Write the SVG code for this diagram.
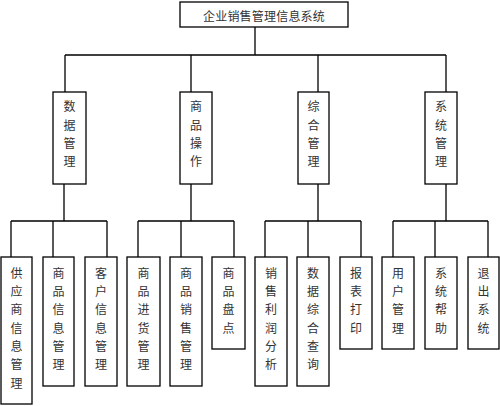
<svg xmlns="http://www.w3.org/2000/svg" width="500" height="406" viewBox="0 0 500 406">
<style>
.box{fill:#fff;stroke:#000;stroke-width:1.3}
.ln{fill:none;stroke:#000;stroke-width:1.3}
text{font-family:"Noto Sans CJK SC","Noto Sans",sans-serif;font-size:12px;fill:#333;text-anchor:middle;dominant-baseline:central}
</style>
<rect width="500" height="406" fill="#fff"/>
<g id="connectors">
<path class="ln" d="M255,27V55M65,55H446M65,55V92M191,55V92M318,55V92M446,55V92"/>
<path class="ln" d="M64,184V221M11,221H107M11,221V257M53,221V257M107,221V257"/>
<path class="ln" d="M191,184V221M138,221H234M138,221V257M181,221V257M234,221V257"/>
<path class="ln" d="M318,184V221M265,221H361M265,221V257M308,221V257M361,221V257"/>
<path class="ln" d="M446,184V221M393,221H488M393,221V257M435,221V257M488,221V257"/>
</g>
<g id="root"><rect class="box" x="180" y="2" width="168" height="25"/><text x="264" y="15" letter-spacing="0.2">企业销售管理信息系统</text></g>
<g id="n-data"><rect class="box" x="53" y="92" width="33" height="92"/><text x="69.5"><tspan x="69.5" y="105">数</tspan><tspan x="69.5" y="124">据</tspan><tspan x="69.5" y="142">管</tspan><tspan x="69.5" y="160">理</tspan></text></g>
<g id="n-goods"><rect class="box" x="180" y="92" width="32" height="92"/><text><tspan x="196" y="105">商</tspan><tspan x="196" y="124">品</tspan><tspan x="196" y="142">操</tspan><tspan x="196" y="160">作</tspan></text></g>
<g id="n-comp"><rect class="box" x="298" y="92" width="31" height="92"/><text><tspan x="313.5" y="105">综</tspan><tspan x="313.5" y="124">合</tspan><tspan x="313.5" y="142">管</tspan><tspan x="313.5" y="160">理</tspan></text></g>
<g id="n-sys"><rect class="box" x="425" y="92" width="32" height="92"/><text><tspan x="441" y="105">系</tspan><tspan x="441" y="124">统</tspan><tspan x="441" y="142">管</tspan><tspan x="441" y="160">理</tspan></text></g>
<g id="c1"><rect class="box" x="1" y="257" width="31" height="147"/><text><tspan x="16.5" y="272">供</tspan><tspan x="16.5" y="290">应</tspan><tspan x="16.5" y="308">商</tspan><tspan x="16.5" y="327">信</tspan><tspan x="16.5" y="345">息</tspan><tspan x="16.5" y="363">管</tspan><tspan x="16.5" y="382">理</tspan></text></g>
<g id="c2"><rect class="box" x="43" y="257" width="31" height="129"/><text><tspan x="58.5" y="272">商</tspan><tspan x="58.5" y="290">品</tspan><tspan x="58.5" y="308">信</tspan><tspan x="58.5" y="327">息</tspan><tspan x="58.5" y="345">管</tspan><tspan x="58.5" y="363">理</tspan></text></g>
<g id="c3"><rect class="box" x="85" y="257" width="32" height="129"/><text><tspan x="101" y="272">客</tspan><tspan x="101" y="290">户</tspan><tspan x="101" y="308">信</tspan><tspan x="101" y="327">息</tspan><tspan x="101" y="345">管</tspan><tspan x="101" y="363">理</tspan></text></g>
<g id="c4"><rect class="box" x="127" y="257" width="33" height="129"/><text><tspan x="143.5" y="272">商</tspan><tspan x="143.5" y="290">品</tspan><tspan x="143.5" y="308">进</tspan><tspan x="143.5" y="327">货</tspan><tspan x="143.5" y="345">管</tspan><tspan x="143.5" y="363">理</tspan></text></g>
<g id="c5"><rect class="box" x="170" y="257" width="32" height="129"/><text><tspan x="186" y="272">商</tspan><tspan x="186" y="290">品</tspan><tspan x="186" y="308">销</tspan><tspan x="186" y="327">售</tspan><tspan x="186" y="345">管</tspan><tspan x="186" y="363">理</tspan></text></g>
<g id="c6"><rect class="box" x="212" y="257" width="33" height="92"/><text><tspan x="228.5" y="272">商</tspan><tspan x="228.5" y="290">品</tspan><tspan x="228.5" y="308">盘</tspan><tspan x="228.5" y="327">点</tspan></text></g>
<g id="c7"><rect class="box" x="255" y="257" width="32" height="129"/><text><tspan x="271" y="272">销</tspan><tspan x="271" y="290">售</tspan><tspan x="271" y="308">利</tspan><tspan x="271" y="327">润</tspan><tspan x="271" y="345">分</tspan><tspan x="271" y="363">析</tspan></text></g>
<g id="c8"><rect class="box" x="297" y="257" width="32" height="129"/><text><tspan x="313" y="272">数</tspan><tspan x="313" y="290">据</tspan><tspan x="313" y="308">综</tspan><tspan x="313" y="327">合</tspan><tspan x="313" y="345">查</tspan><tspan x="313" y="363">询</tspan></text></g>
<g id="c9"><rect class="box" x="340" y="257" width="32" height="92"/><text><tspan x="356" y="272">报</tspan><tspan x="356" y="290">表</tspan><tspan x="356" y="308">打</tspan><tspan x="356" y="327">印</tspan></text></g>
<g id="c10"><rect class="box" x="382" y="257" width="32" height="92"/><text><tspan x="398" y="272">用</tspan><tspan x="398" y="290">户</tspan><tspan x="398" y="308">管</tspan><tspan x="398" y="327">理</tspan></text></g>
<g id="c11"><rect class="box" x="425" y="257" width="32" height="92"/><text><tspan x="441" y="272">系</tspan><tspan x="441" y="290">统</tspan><tspan x="441" y="308">帮</tspan><tspan x="441" y="327">助</tspan></text></g>
<g id="c12"><rect class="box" x="468" y="257" width="31" height="92"/><text><tspan x="483.5" y="272">退</tspan><tspan x="483.5" y="290">出</tspan><tspan x="483.5" y="308">系</tspan><tspan x="483.5" y="327">统</tspan></text></g>
</svg>
